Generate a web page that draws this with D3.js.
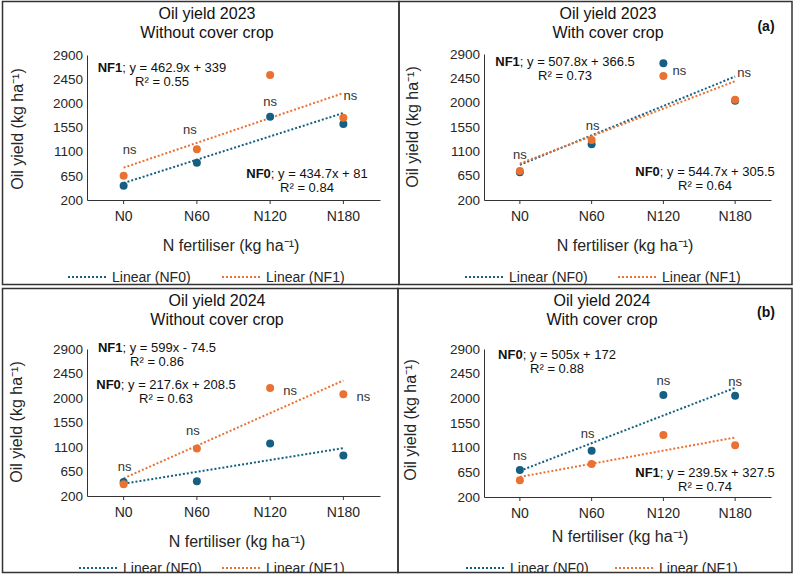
<!DOCTYPE html>
<html>
<head>
<meta charset="utf-8">
<script src="https://cdn.jsdelivr.net/npm/d3@7"></script>
<style>
  body { margin: 0; background: #fff; }
  text { font-family: "Liberation Sans", Arial, sans-serif; }
</style>
</head>
<body>
<svg id="chart" width="797" height="577"></svg>
<script>
// categories and y ticks shared by all four panels
const categories = ["N0", "N60", "N120", "N180"];
const yTicks = [200, 650, 1100, 1550, 2000, 2450, 2900];

// oil yield (kg/ha)
const nf0_2023_without = [467, 895, 1752, 1615];
const nf1_2023_without = [653, 1143, 2528, 1733];
const nf0_2023_with = [712, 1230, 2728, 2037];
const nf1_2023_with = [736, 1310, 2493, 2056];
const nf0_2024_without = [458, 470, 1163, 942];
const nf1_2024_without = [415, 1071, 2182, 2071];
const nf0_2024_with = [693, 1045, 2061, 2049];
const nf1_2024_with = [504, 802, 1331, 1143];

// trendline fits [slope, intercept, R2] as printed on the chart
const fit_2023_without = { NF0: [434.7, 81, 0.84], NF1: [462.9, 339, 0.55] };
const fit_2023_with = { NF0: [544.7, 305.5, 0.64], NF1: [507.8, 366.5, 0.73] };
const fit_2024_without = { NF0: [217.6, 208.5, 0.63], NF1: [599, -74.5, 0.86] };
const fit_2024_with = { NF0: [505, 172, 0.88], NF1: [239.5, 327.5, 0.74] };

// height (kg/ha) where each "ns" label sits
const ns_2023_without = [1137, 1510, 2019, 2130];
const ns_2023_with = [1026, 1575, 2586, 2543];
const ns_2024_without = [734, 1390, 2126, 2022];
const ns_2024_with = [954, 1356, 2311, 2292];

const BLUE = "#156082", ORANGE = "#E97132", INK = "#262626";

let panels = [
  { box: [2.5, 1.5, 396.5, 283], plot: { l: 87, r: 380, t: 55, b: 200 },
    title: ["Oil yield 2023", "Without cover crop"], titleX: 207, titleY: 19,
    nf0: nf0_2023_without, nf1: nf1_2023_without, fit: fit_2023_without,
    ns: ns_2023_without, nsDx: [6, -7, 0, 7],
    eq: [{ s: "NF1", cx: 162, cy: 67 }, { s: "NF0", cx: 307, cy: 173 }],
    xTitle: [231, 246], yTitle: [18, 129], legendY: 277, legendX: [68, 222], tag: null },
  { box: [399, 1.5, 393, 283], plot: { l: 484, r: 771, t: 54, b: 200 },
    title: ["Oil yield 2023", "With cover crop"], titleX: 608, titleY: 19,
    nf0: nf0_2023_with, nf1: nf1_2023_with, fit: fit_2023_with,
    ns: ns_2023_with, nsDx: [0, 1, 16, 9],
    eq: [{ s: "NF1", cx: 565, cy: 61 }, { s: "NF0", cx: 705, cy: 171 }],
    xTitle: [625, 246], yTitle: [413, 127], legendY: 277, legendX: [465, 618], tag: ["(a)", 766, 26] },
  { box: [2.5, 288.5, 395.5, 284], plot: { l: 87, r: 380, t: 349, b: 496 },
    title: ["Oil yield 2024", "Without cover crop"], titleX: 217, titleY: 306,
    nf0: nf0_2024_without, nf1: nf1_2024_without, fit: fit_2024_without,
    ns: ns_2024_without, nsDx: [1, -4, 20, 20],
    eq: [{ s: "NF1", cx: 157, cy: 347 }, { s: "NF0", cx: 166, cy: 384 }],
    xTitle: [237, 542], yTitle: [17, 422], legendY: 568, legendX: [79, 222], tag: null },
  { box: [398, 288.5, 394, 284], plot: { l: 484, r: 771, t: 349, b: 497 },
    title: ["Oil yield 2024", "With cover crop"], titleX: 602, titleY: 306,
    nf0: nf0_2024_with, nf1: nf1_2024_with, fit: fit_2024_with,
    ns: ns_2024_with, nsDx: [0, -4, 0, 0],
    eq: [{ s: "NF0", cx: 557, cy: 354 }, { s: "NF1", cx: 705, cy: 472 }],
    xTitle: [620, 537], yTitle: [411, 420], legendY: 568, legendX: [466, 615], tag: ["(b)", 766, 312] }
];

let svg = d3.select("#chart");

let drawPanel = (p, i) => {
  let [bx, by, bw, bh] = p.box;
  svg.append("clipPath").attr("id", "clip" + i)
    .append("rect").attr("x", bx).attr("y", by).attr("width", bw).attr("height", bh);
  let g = svg.append("g").attr("clip-path", `url(#clip${i})`);

  let x = d3.scaleBand().domain(categories).range([p.plot.l, p.plot.r]);
  let y = d3.scaleLinear().domain([200, 2900]).range([p.plot.b, p.plot.t]);
  let cx = c => x(c) + x.bandwidth() / 2;

  // title
  g.selectAll(".title").data(p.title).enter().append("text")
    .attr("x", p.titleX).attr("y", (d, k) => p.titleY + k * 19)
    .attr("text-anchor", "middle").style("font-size", "16px").attr("fill", "#111")
    .text(d => d);

  if (p.tag) {
    g.append("text").attr("x", p.tag[1]).attr("y", p.tag[2] + 5)
      .attr("text-anchor", "middle").style("font-size", "14px").style("font-weight", "bold")
      .attr("fill", "#111").text(p.tag[0]);
  }

  // axes
  let yAxis = g.append("g").attr("transform", `translate(${p.plot.l},0)`)
    .call(d3.axisLeft(y).tickValues(yTicks).tickFormat(d3.format("d"))
      .tickSize(0).tickSizeOuter(0).tickPadding(4));
  yAxis.selectAll("text").style("font-size", "13.5px").attr("fill", INK);
  yAxis.select(".domain").attr("stroke", "#333");

  let xAxis = g.append("g").attr("transform", `translate(0,${p.plot.b})`)
    .call(d3.axisBottom(x).tickSize(4).tickSizeOuter(0).tickPadding(7));
  xAxis.selectAll("text").style("font-size", "14px").attr("fill", INK);
  xAxis.selectAll("line, .domain").attr("stroke", "#333");

  g.append("text").attr("x", p.xTitle[0]).attr("y", p.xTitle[1] + 5)
    .attr("text-anchor", "middle").style("font-size", "16px").attr("fill", INK)
    .text("N fertiliser (kg ha\u207B\u00B9)");
  g.append("text")
    .attr("transform", `translate(${p.yTitle[0] + 5},${p.yTitle[1]}) rotate(-90)`)
    .attr("text-anchor", "middle").style("font-size", "16px").attr("fill", INK)
    .text("Oil yield (kg ha\u207B\u00B9)");

  // trendlines
  let series = [["NF0", p.nf0, BLUE], ["NF1", p.nf1, ORANGE]];
  series.forEach(([name, vals, col]) => {
    let [m, b] = p.fit[name];
    g.append("line")
      .attr("x1", cx(categories[0])).attr("y1", y(m * 1 + b))
      .attr("x2", cx(categories[3])).attr("y2", y(m * 4 + b))
      .attr("stroke", col).attr("stroke-width", 2).attr("stroke-dasharray", "2,2");
  });

  // points
  series.forEach(([name, vals, col]) => {
    g.selectAll(".pt-" + name).data(vals).enter().append("circle")
      .attr("cx", (d, k) => cx(categories[k])).attr("cy", d => y(d))
      .attr("r", 4).attr("fill", col);
  });

  // ns labels
  g.selectAll(".ns").data(p.ns).enter().append("text")
    .attr("x", (d, k) => cx(categories[k]) + p.nsDx[k]).attr("y", d => y(d) + 4)
    .attr("text-anchor", "middle").style("font-size", "13px").attr("fill", "#333")
    .text("ns");

  // equations
  p.eq.forEach(e => {
    let [m, b, r2] = p.fit[e.s];
    let t = g.append("text").attr("x", e.cx).attr("y", e.cy + 4.5)
      .attr("text-anchor", "middle").style("font-size", "13px").attr("fill", "#111");
    t.append("tspan").style("font-weight", "bold").text(e.s);
    t.append("tspan").text(`; y = ${m}x ${b < 0 ? "-" : "+"} ${Math.abs(b)}`);
    g.append("text").attr("x", e.cx).attr("y", e.cy + 18.5)
      .attr("text-anchor", "middle").style("font-size", "13px").attr("fill", "#111")
      .text(`R\u00B2 = ${r2.toFixed(2)}`);
  });

  // legend
  series.forEach(([name, vals, col], k) => {
    let lx = p.legendX[k];
    g.append("line").attr("x1", lx).attr("x2", lx + 39)
      .attr("y1", p.legendY).attr("y2", p.legendY)
      .attr("stroke", col).attr("stroke-width", 2).attr("stroke-dasharray", "2,2");
    g.append("text").attr("x", lx + 44).attr("y", p.legendY + 5)
      .style("font-size", "14px").attr("fill", INK).text(`Linear (${name})`);
  });

  // panel border
  svg.append("rect").attr("x", bx).attr("y", by).attr("width", bw).attr("height", bh)
    .attr("fill", "none").attr("stroke", "#333").attr("stroke-width", 1.5);
};

panels.forEach(drawPanel);
</script>
</body>
</html>
